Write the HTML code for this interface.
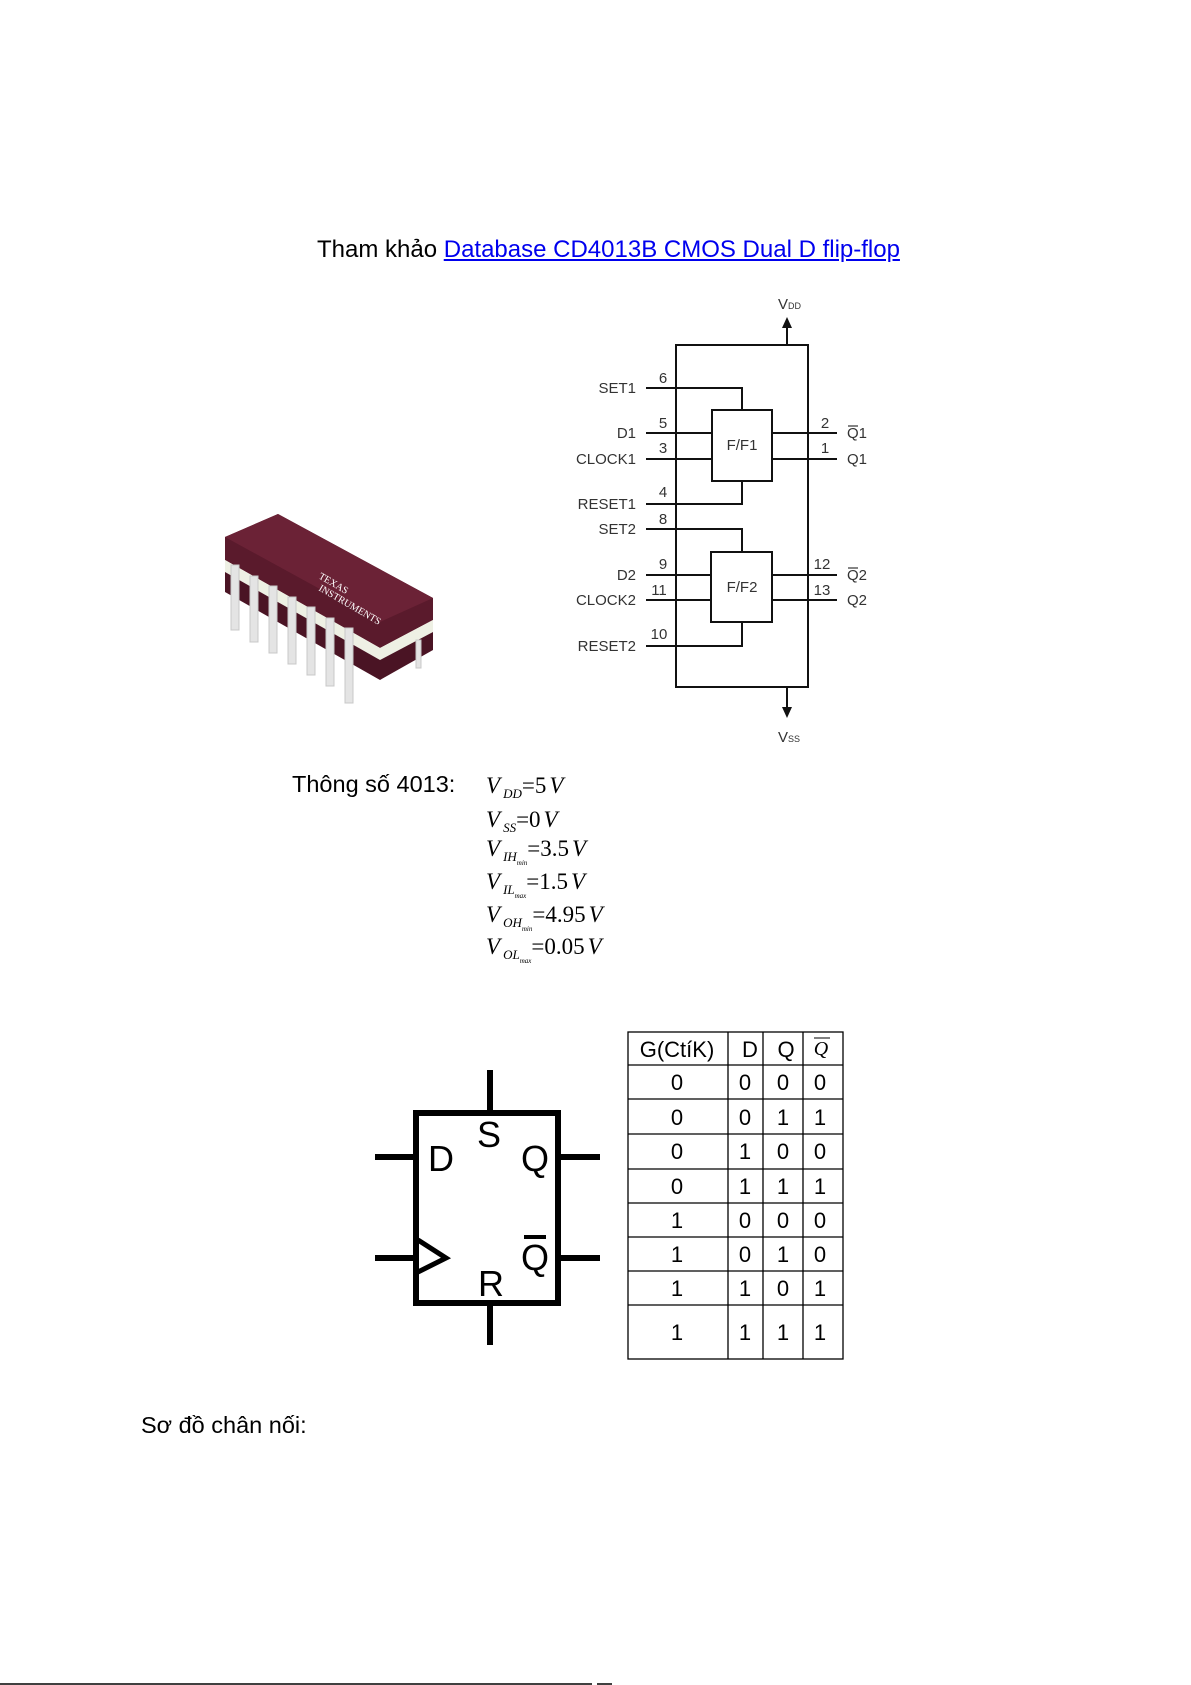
<!DOCTYPE html>
<html><head><meta charset="utf-8"><style>
body{margin:0;width:1191px;height:1685px;position:relative;background:#fff;font-family:"Liberation Sans",sans-serif;overflow:hidden}
.t{position:absolute;white-space:nowrap}
</style></head><body>
<div class="t" style="left:317px;top:236px;font-size:24px;color:#000">Tham khảo <span style="color:#0000ee;text-decoration:underline">Database CD4013B CMOS Dual D flip-flop</span></div>
<div class="t" style="left:292px;top:771px;font-size:23.5px">Thông số 4013:</div>
<div class="t" style="left:141px;top:1412px;font-size:23.5px">Sơ đồ chân nối:</div>

<svg width="1191" height="1685" style="position:absolute;left:0;top:0" xmlns="http://www.w3.org/2000/svg">
<!-- chip -->
<g>
<polygon points="225,537 278,514 433,598 433,620 380,648 225,560" fill="#5a1a2c"/>
<polygon points="225,537 278,514 433,598 380,622" fill="#6b2236"/>
<polygon points="225,560 380,648 380,660 225,572" fill="#eef0e4"/>
<polygon points="380,648 433,620 433,632 380,660" fill="#eef0e4"/>
<polygon points="225,572 380,660 380,680 225,592" fill="#4a1424"/>
<polygon points="380,660 433,632 433,650 380,680" fill="#4a1424"/>
<g fill="#e4e4e4" stroke="#c8c8c8" stroke-width="1">
<rect x="231" y="565" width="8" height="65"/><rect x="250" y="576" width="8" height="66"/>
<rect x="269" y="586" width="8" height="67"/><rect x="288" y="597" width="8" height="67"/>
<rect x="307" y="607" width="8" height="68"/><rect x="326" y="618" width="8" height="68"/>
<rect x="345" y="628" width="8" height="75"/><rect x="416" y="640" width="5" height="28"/>
</g>
<text x="318" y="578" font-family="Liberation Serif" font-size="10" fill="#fff" transform="rotate(30 318 578)">TEXAS</text>
<text x="318" y="590" font-family="Liberation Serif" font-size="10" fill="#fff" transform="rotate(30 318 590)">INSTRUMENTS</text>
</g>

<!-- logic diagram -->
<g stroke="#111" stroke-width="2" fill="none">
<rect x="676" y="345" width="132" height="342"/>
<rect x="712" y="410" width="60" height="71"/>
<rect x="711" y="552" width="61" height="70"/>
<line x1="787" y1="345" x2="787" y2="322"/>
<line x1="787" y1="687" x2="787" y2="712"/>
<polyline points="646,388 742,388 742,410"/>
<line x1="646" y1="433" x2="712" y2="433"/>
<line x1="646" y1="459" x2="712" y2="459"/>
<polyline points="646,504 742,504 742,481"/>
<polyline points="646,529 742,529 742,552"/>
<line x1="646" y1="575" x2="711" y2="575"/>
<line x1="646" y1="600" x2="711" y2="600"/>
<polyline points="646,646 742,646 742,622"/>
<line x1="772" y1="433" x2="837" y2="433"/>
<line x1="772" y1="459" x2="837" y2="459"/>
<line x1="772" y1="575" x2="837" y2="575"/>
<line x1="772" y1="600" x2="837" y2="600"/>
</g>
<polygon points="787,317 782,328 792,328" fill="#111"/>
<polygon points="787,718 782,707 792,707" fill="#111"/>
<g font-size="15" fill="#333" font-family="Liberation Sans">
<text x="636" y="393" text-anchor="end">SET1</text>
<text x="636" y="438" text-anchor="end">D1</text>
<text x="636" y="464" text-anchor="end">CLOCK1</text>
<text x="636" y="509" text-anchor="end">RESET1</text>
<text x="636" y="534" text-anchor="end">SET2</text>
<text x="636" y="580" text-anchor="end">D2</text>
<text x="636" y="605" text-anchor="end">CLOCK2</text>
<text x="636" y="651" text-anchor="end">RESET2</text>
<text x="663" y="383" text-anchor="middle">6</text>
<text x="663" y="428" text-anchor="middle">5</text>
<text x="663" y="453" text-anchor="middle">3</text>
<text x="663" y="497" text-anchor="middle">4</text>
<text x="663" y="524" text-anchor="middle">8</text>
<text x="663" y="569" text-anchor="middle">9</text>
<text x="659" y="595" text-anchor="middle">11</text>
<text x="659" y="639" text-anchor="middle">10</text>
<text x="825" y="428" text-anchor="middle">2</text>
<text x="825" y="453" text-anchor="middle">1</text>
<text x="822" y="569" text-anchor="middle">12</text>
<text x="822" y="595" text-anchor="middle">13</text>
<text x="847" y="438">Q1</text><line x1="848" y1="426" x2="858" y2="426" stroke="#333" stroke-width="1.2"/>
<text x="847" y="464">Q1</text>
<text x="847" y="580">Q2</text><line x1="848" y1="568" x2="858" y2="568" stroke="#333" stroke-width="1.2"/>
<text x="847" y="605">Q2</text>
<text x="742" y="450" text-anchor="middle">F/F1</text>
<text x="742" y="592" text-anchor="middle">F/F2</text>
<text x="778" y="309">V<tspan font-size="9">DD</tspan></text>
<text x="778" y="742">V<tspan font-size="9">SS</tspan></text>
</g>

<!-- equations -->
<g font-family="Liberation Serif" font-size="23" fill="#000">
<text x="486" y="793"><tspan font-style="italic">V</tspan><tspan font-style="italic" font-size="13" dx="3" dy="5">DD</tspan><tspan dy="-5">=5</tspan><tspan font-style="italic" dx="3">V</tspan></text>
<text x="486" y="827"><tspan font-style="italic">V</tspan><tspan font-style="italic" font-size="13" dx="3" dy="5">SS</tspan><tspan dy="-5">=0</tspan><tspan font-style="italic" dx="3">V</tspan></text>
<text x="486" y="856"><tspan font-style="italic">V</tspan><tspan font-style="italic" font-size="13" dx="3" dy="5">IH</tspan><tspan font-style="italic" font-size="7" dy="4">min</tspan><tspan dy="-9">=3.5</tspan><tspan font-style="italic" dx="3">V</tspan></text>
<text x="486" y="889"><tspan font-style="italic">V</tspan><tspan font-style="italic" font-size="13" dx="3" dy="5">IL</tspan><tspan font-style="italic" font-size="7" dy="4">max</tspan><tspan dy="-9">=1.5</tspan><tspan font-style="italic" dx="3">V</tspan></text>
<text x="486" y="922"><tspan font-style="italic">V</tspan><tspan font-style="italic" font-size="13" dx="3" dy="5">OH</tspan><tspan font-style="italic" font-size="7" dy="4">min</tspan><tspan dy="-9">=4.95</tspan><tspan font-style="italic" dx="3">V</tspan></text>
<text x="486" y="954"><tspan font-style="italic">V</tspan><tspan font-style="italic" font-size="13" dx="3" dy="5">OL</tspan><tspan font-style="italic" font-size="7" dy="4">max</tspan><tspan dy="-9">=0.05</tspan><tspan font-style="italic" dx="3">V</tspan></text>
</g>

<!-- FF symbol -->
<g stroke="#000" stroke-width="6" fill="none">
<rect x="416" y="1113" width="142" height="190"/>
<line x1="490" y1="1070" x2="490" y2="1113"/>
<line x1="490" y1="1303" x2="490" y2="1345"/>
<line x1="375" y1="1157" x2="416" y2="1157"/>
<line x1="375" y1="1258" x2="416" y2="1258"/>
<line x1="558" y1="1157" x2="600" y2="1157"/>
<line x1="558" y1="1258" x2="600" y2="1258"/>
<polyline points="418,1240 446,1258 418,1272" stroke-width="5"/>
<line x1="524" y1="1237" x2="546" y2="1237" stroke-width="4"/>
</g>
<g font-size="36" font-family="Liberation Sans" fill="#000">
<text x="428" y="1171">D</text>
<text x="477" y="1147">S</text>
<text x="521" y="1171">Q</text>
<text x="521" y="1270">Q</text>
<text x="478" y="1296">R</text>
</g>

<!-- table -->
<g stroke="#000" stroke-width="1.3">
<rect x="628" y="1032" width="215" height="327" fill="none"/>
<line x1="728" y1="1032" x2="728" y2="1359"/>
<line x1="763" y1="1032" x2="763" y2="1359"/>
<line x1="803" y1="1032" x2="803" y2="1359"/>
<line x1="628" y1="1065" x2="843" y2="1065"/>
<line x1="628" y1="1099" x2="843" y2="1099"/>
<line x1="628" y1="1134" x2="843" y2="1134"/>
<line x1="628" y1="1169" x2="843" y2="1169"/>
<line x1="628" y1="1203" x2="843" y2="1203"/>
<line x1="628" y1="1237" x2="843" y2="1237"/>
<line x1="628" y1="1271" x2="843" y2="1271"/>
<line x1="628" y1="1305" x2="843" y2="1305"/>
</g>
<g font-size="22" font-family="Liberation Sans" fill="#000" text-anchor="middle">
<text x="677" y="1057">G(CtíK)</text><text x="750" y="1057">D</text><text x="786" y="1057">Q</text>
<text x="821" y="1055" font-family="Liberation Serif" font-style="italic" font-size="20">Q</text>
<line x1="814" y1="1038" x2="830" y2="1038" stroke="#000" stroke-width="1"/>
</g>
<g font-size="22" font-family="Liberation Sans" fill="#000" text-anchor="middle">
<text x="677" y="1090">0</text><text x="745" y="1090">0</text><text x="783" y="1090">0</text><text x="820" y="1090">0</text>
<text x="677" y="1125">0</text><text x="745" y="1125">0</text><text x="783" y="1125">1</text><text x="820" y="1125">1</text>
<text x="677" y="1159">0</text><text x="745" y="1159">1</text><text x="783" y="1159">0</text><text x="820" y="1159">0</text>
<text x="677" y="1194">0</text><text x="745" y="1194">1</text><text x="783" y="1194">1</text><text x="820" y="1194">1</text>
<text x="677" y="1228">1</text><text x="745" y="1228">0</text><text x="783" y="1228">0</text><text x="820" y="1228">0</text>
<text x="677" y="1262">1</text><text x="745" y="1262">0</text><text x="783" y="1262">1</text><text x="820" y="1262">0</text>
<text x="677" y="1296">1</text><text x="745" y="1296">1</text><text x="783" y="1296">0</text><text x="820" y="1296">1</text>
<text x="677" y="1340">1</text><text x="745" y="1340">1</text><text x="783" y="1340">1</text><text x="820" y="1340">1</text>
</g>

<line x1="0" y1="1684" x2="592" y2="1684" stroke="#000" stroke-width="1.5"/>
<line x1="597" y1="1684" x2="612" y2="1684" stroke="#000" stroke-width="1.5"/>
</svg>
</body></html>
